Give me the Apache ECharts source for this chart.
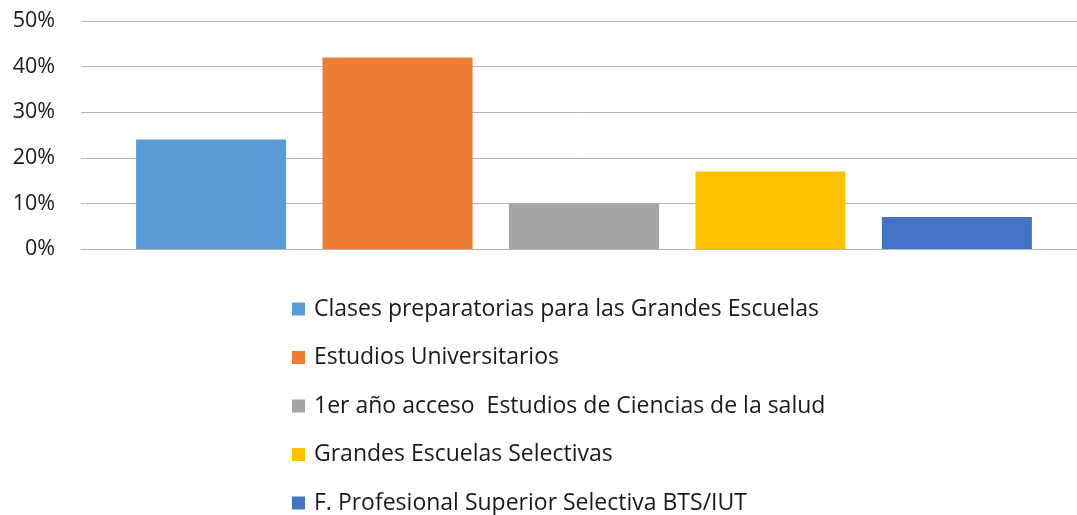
<!DOCTYPE html>
<html>
<head>
<meta charset="utf-8">
<script src="https://cdn.jsdelivr.net/npm/echarts@6/dist/echarts.min.js"></script>
<style>
  html, body { margin: 0; padding: 0; background: #fff; }
  #main { width: 1077px; height: 515px; }
</style>
</head>
<body>
<div id="main"></div>
<script>
// series names and values (percent)
var names = [
  "Clases preparatorias para las Grandes Escuelas",
  "Estudios Universitarios",
  "1er año acceso  Estudios de Ciencias de la salud",
  "Grandes Escuelas Selectivas",
  "F. Profesional Superior Selectiva BTS/IUT"
];
var values = [24, 42, 10, 17, 7];
var colors = ["#5B9BD5", "#ED7D31", "#A5A5A5", "#FFC000", "#4472C4"];
var yTicks = [0, 10, 20, 30, 40, 50];

var myChart = echarts.init(document.getElementById("main"));

var series = names.map(function (n, i) {
  return {
    name: n,
    type: "bar",
    data: [values[i]],
    barWidth: 150,
    barGap: "24.3%",
    itemStyle: { color: colors[i] }
  };
});

var option = {
  animation: false,
  textStyle: { fontFamily: "Open Sans" },
  grid: { left: 81, top: 21, width: 1006, height: 228, containLabel: false, outerBoundsMode: "none" },
  xAxis: {
    type: "category",
    data: [""],
    axisLine: { lineStyle: { color: "#b4b4b4", width: 1 } },
    axisTick: { show: false },
    axisLabel: { show: false }
  },
  yAxis: {
    type: "value",
    min: yTicks[0],
    max: yTicks[yTicks.length - 1],
    interval: 10,
    axisLine: { show: false },
    axisTick: { show: false },
    axisLabel: { formatter: "{value}%", fontSize: 21.5, color: "#1a1a1a", margin: 26 },
    splitLine: { lineStyle: { color: "#b4b4b4", width: 1 } }
  },
  legend: {
    orient: "vertical",
    left: 287,
    top: 292.5,
    height: 260,
    icon: "rect",
    itemWidth: 13,
    itemHeight: 13,
    itemGap: 25.5,
    textStyle: { fontSize: 23, lineHeight: 23, color: "#1a1a1a", padding: [0, 0, 0, 4] },
    data: names
  },
  series: series
};

myChart.setOption(option);
</script>
</body>
</html>
